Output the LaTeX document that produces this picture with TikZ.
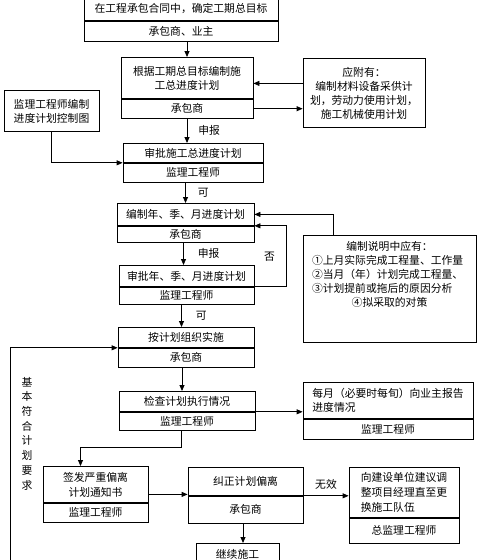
\documentclass[tikz,border=0pt]{standalone}
\usepackage{fontspec}
\setmainfont{Noto Sans CJK SC}
\usetikzlibrary{arrows.meta,positioning}

\begin{document}
\begin{tikzpicture}[x=1pt,y=-1pt,
  stage/.style={draw,line width=.8pt,inner sep=1pt,font=\fontsize{10.8}{14}\selectfont,align=center,anchor=north},
  arr/.style={-{Triangle[length=6pt,width=5pt]},line width=.8pt},
  tag/.style={font=\fontsize{10.8}{14}\selectfont,inner sep=1pt}]
\clip (0,0) rectangle (491,560);

% main column
\node[stage,minimum width=194pt,minimum height=23pt] (b1) at (181,-3) {在工程承包合同中，确定工期总目标};
\node[stage,minimum width=194pt,minimum height=20pt,below=0pt of b1] (b1r) {承包商、业主};
\node[stage,minimum width=132pt,minimum height=41pt] (b2) at (187,57) {根据工期总目标编制施\\工总进度计划};
\node[stage,minimum width=132pt,minimum height=19pt,below=0pt of b2] (b2r) {承包商};
\node[stage,minimum width=140pt,minimum height=19pt] (b3) at (193,143) {审批施工总进度计划};
\node[stage,minimum width=140pt,minimum height=19pt,below=0pt of b3] (b3r) {监理工程师};
\node[stage,minimum width=137pt,minimum height=22pt] (b4) at (185.5,203) {编制年、季、月进度计划};
\node[stage,minimum width=137pt,minimum height=16pt,below=0pt of b4] (b4r) {承包商};
\node[stage,minimum width=135pt,minimum height=21pt] (b5) at (186.5,265) {审批年、季、月进度计划};
\node[stage,minimum width=135pt,minimum height=17pt,below=0pt of b5] (b5r) {监理工程师};
\node[stage,minimum width=136pt,minimum height=20pt] (b6) at (186,327) {按计划组织实施};
\node[stage,minimum width=136pt,minimum height=19pt,below=0pt of b6] (b6r) {承包商};
\node[stage,minimum width=136pt,minimum height=20pt] (b7) at (187,391) {检查计划执行情况};
\node[stage,minimum width=136pt,minimum height=18pt,below=0pt of b7] (b7r) {监理工程师};

% side boxes
\node[stage,minimum width=122pt,minimum height=69pt] (att) at (364,58) {应附有：\\编制材料设备采供计\\划，劳动力使用计划，\\施工机械使用计划};
\node[stage,minimum width=95pt,minimum height=41pt] (ctrl) at (51.5,90) {监理工程师编制\\进度计划控制图};
\node[stage,minimum width=173pt,minimum height=107pt] (note) at (389.5,235) {};
\node[tag,anchor=north,text width=155pt,align=left] (notetxt) at ([yshift=-5pt]note.north)
  {\makebox[\hsize]{编制说明中应有：}\\①上月实际完成工程量、工作量\\②当月（年）计划完成工程量、\\③计划提前或拖后的原因分析\\\makebox[\hsize]{④拟采取的对策}};
\node[stage,minimum width=170pt,minimum height=36pt,align=left] (rep) at (388,382) {每月（必要时每旬）向业主报告\\进度情况};
\node[stage,minimum width=170pt,minimum height=20pt,below=0pt of rep] (repr) {监理工程师};

% bottom row
\node[stage,minimum width=105pt,minimum height=36pt,font=\fontsize{10.8}{15}\selectfont] (b8) at (95.5,466) {签发严重偏离\\计划通知书};
\node[stage,minimum width=105pt,minimum height=19pt,below=0pt of b8] (b8r) {监理工程师};
\node[stage,minimum width=115pt,minimum height=28pt] (b9) at (245.5,467) {纠正计划偏离};
\node[stage,minimum width=115pt,minimum height=27pt,below=0pt of b9] (b9r) {承包商};
\node[stage,minimum width=110pt,minimum height=50pt,align=left,font=\fontsize{10.8}{15}\selectfont] (b10) at (404,467) {向建设单位建议调\\整项目经理直至更\\换施工队伍};
\node[stage,minimum width=110pt,minimum height=25pt,below=0pt of b10] (b10r) {总监理工程师};
\node[stage,minimum width=83pt,minimum height=22pt] (b11) at (237.5,543) {继续施工};

\node[tag,align=center,font=\fontsize{10.8}{14.7}\selectfont] (lbl) at (27,433.5) {基\\本\\符\\合\\计\\划\\要\\求};
\coordinate (back) at (10,570);

% connectors
\draw[arr] (b1r.south -| b2.north) -- (b2.north);
\draw[arr] ([yshift=9.5pt]att.west) -- ([yshift=9.5pt]att.west -| b2.east);
\draw[arr] (b2r.east) -- (b2r.east -| att.west);
\draw[arr] (b2r.south) -- (b2r.south |- b3.north) node[midway,right=10pt,tag]{申报};
\draw[arr] (ctrl.south) |- (b3r.north west);
\draw[arr] (b3r.south -| b4.north) -- (b4.north) node[midway,right=11pt,tag]{可};
\draw[arr] ([xshift=-2pt]b4r.south) -- ([xshift=-2pt]b4r.south |- b5.north) node[midway,right=13pt,tag]{申报};
\draw[arr] (b5.south east) -- ++(32,0) |- (b4r.north east) node[pos=.25,left=10pt,tag]{否};
\draw[arr] ([xshift=-56.5pt]note.north) |- (b4.east);
\draw[arr] ([xshift=-5pt]b5r.south) -- ([xshift=-5pt]b5r.south |- b6.north) node[midway,right=13pt,tag]{可};
\draw[arr] ([xshift=-4pt]b6r.south) -- ([xshift=-4pt]b6r.south |- b7.north);
\draw[arr] (b7.south east) -- (b7.south east -| rep.west);
\draw[arr] ([xshift=-6pt]b7r.south) -- ++(0,17) -| ([xshift=-15pt]b8.north);
\draw[arr] ([yshift=-10pt]b8.east) -- ([yshift=-10pt]b8.east -| b9.west);
\draw[arr] (b9.south east) -- (b9.south east -| b10.west) node[midway,above=5pt,tag]{无效};
\draw[arr] ([xshift=-2.5pt]b9r.south) -- ([xshift=-2.5pt]b9r.south |- b11.north);
\draw[arr] (back) |- (b6r.north west);
\end{tikzpicture}
\end{document}
